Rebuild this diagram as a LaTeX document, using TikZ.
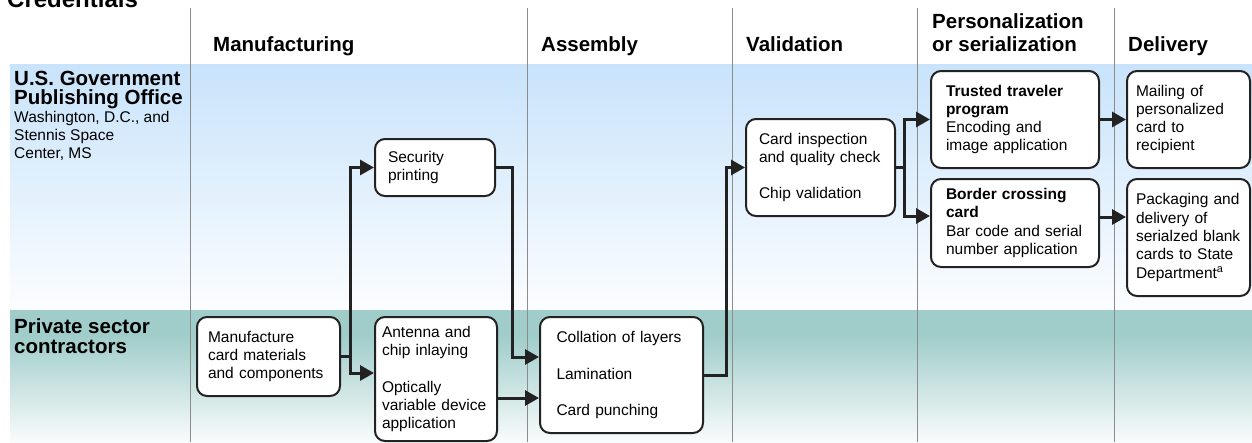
\documentclass[tikz,border=0pt]{standalone}
\usepackage{fontspec}
\setmainfont{Liberation Sans}
\usetikzlibrary{arrows.meta,calc}
\definecolor{bandblue}{RGB}{200,227,251}
\definecolor{bandteal}{RGB}{160,205,202}
\definecolor{ink}{RGB}{34,34,34}
\definecolor{rulegray}{RGB}{140,140,140}
\begin{document}
\begin{tikzpicture}[x=1pt,y=-1pt,
  stepbox/.style={draw=ink, line width=2pt, rounded corners=10pt, fill=white, align=left,
    inner sep=0pt, font=\fontsize{15.5}{18.3}\selectfont, text=black},
  flow/.style={draw=ink, line width=3pt, -{Triangle[length=14pt,width=15pt]}},
  link/.style={draw=ink, line width=3pt},
  colrule/.style={draw=rulegray, line width=1pt},
  head/.style={font=\fontsize{20.5}{22}\selectfont\bfseries, anchor=base west, inner sep=0pt, text=black},
  lab/.style={font=\fontsize{15.5}{18}\selectfont, anchor=base west, inner sep=0pt, text=black}]

\useasboundingbox (0,0) rectangle (1252,442);
\fill[white] (0,0) rectangle (1252,442);

% bands
\shade[top color=bandblue, bottom color=bandblue!6] (10,64) rectangle (1252,310);
\fill[bandteal] (10,310) rectangle (1252,336);
\shade[top color=bandteal, bottom color=bandteal!6] (10,336) rectangle (1252,442);

% column rules
\foreach \x in {190,527,732,917,1114} \draw[colrule] (\x,8) -- (\x,442);

% title (cut off at top)
\node[font=\fontsize{24}{26}\selectfont\bfseries, anchor=base west, inner sep=0pt] (title) at (7,7) {Credentials};

% column headers
\node[head] (hman) at (213,51) {Manufacturing};
\node[head] (hass) at (541,51) {Assembly};
\node[head] (hval) at (746,51) {Validation};
\node[head] (hper1) at (932,28) {Personalization};
\node[head] (hper2) at (932,51) {or serialization};
\node[head] (hdel) at (1128,51) {Delivery};

% row labels
\node[head] (gpo1) at (14,85) {U.S. Government};
\node[head] (gpo2) at (14,104) {Publishing Office};
\node[lab] (gpo3) at (14,122) {Washington, D.C., and};
\node[lab] (gpo4) at (14,140) {Stennis Space};
\node[lab] (gpo5) at (14,158) {Center, MS};
\node[head] (psc1) at (14,333) {Private sector};
\node[head] (psc2) at (14,353) {contractors};

% boxes
\node[stepbox, minimum width=120pt, minimum height=57pt, text width=94pt] (secp) at (435,167.5) {Security\\printing};
\node[stepbox, minimum width=149pt, minimum height=97pt, text width=123pt] (cardi) at (820.5,167.5)
  {Card inspection\\and quality check\\[18.3pt]Chip validation};
\node[stepbox, minimum width=168pt, minimum height=97pt, text width=138pt] (trust) at (1015,119.5)
  {\textbf{Trusted traveler}\\\textbf{program}\\Encoding and\\image application};
\node[stepbox, minimum width=168pt, minimum height=88pt, text width=138pt] (border) at (1015,223)
  {\textbf{Border crossing}\\\textbf{card}\\Bar code and serial\\number application};
\node[stepbox, minimum width=123pt, minimum height=97pt, text width=105pt] (mail) at (1188.5,119.5)
  {Mailing of\\personalized\\card to\\recipient};
\node[stepbox, minimum width=123pt, minimum height=117pt, text width=105pt] (pack) at (1188.5,237.5)
  {Packaging and\\delivery of\\serialzed blank\\cards to State\\Department\textsuperscript{a}};
\node[stepbox, minimum width=143pt, minimum height=79pt, text width=121pt] (manu) at (268.5,356.5)
  {Manufacture\\card materials\\and components};
\node[stepbox, minimum width=122pt, minimum height=124pt, text width=108pt] (ant) at (436,379)
  {Antenna and\\chip inlaying\\[18.3pt]Optically\\variable device\\application};
\node[stepbox, minimum width=163pt, minimum height=116pt, text width=130pt] (coll) at (621.5,375)
  {Collation of layers\\[18.3pt]Lamination\\[18.3pt]Card punching};

% connectors
\coordinate (jm) at ($(manu.east)+(9,0)$);
\draw[link] (manu.east) -- (jm);
\draw[flow] (jm) |- (secp.west);
\draw[flow] (jm) |- ([yshift=6pt]ant.west);
\draw[flow] (secp.east) -- ++(16,0) |- ([yshift=18pt]coll.west);
\coordinate (ao) at ([yshift=-19pt]ant.east);
\draw[flow] (ao) -- (ao -| coll.west);
\draw[flow] (coll.east) -- ++(22,0) |- (cardi.west);
\coordinate (jv) at ($(cardi.east)+(8,0)$);
\draw[link] (cardi.east) -- (jv);
\draw[flow] (jv) |- (trust.west);
\draw[flow] (jv) |- ([yshift=7pt]border.west);
\draw[flow] (trust.east) -- (mail.west);
\coordinate (bo) at ([yshift=6pt]border.east);
\draw[flow] (bo) -- (bo -| pack.west);
\end{tikzpicture}
\end{document}
